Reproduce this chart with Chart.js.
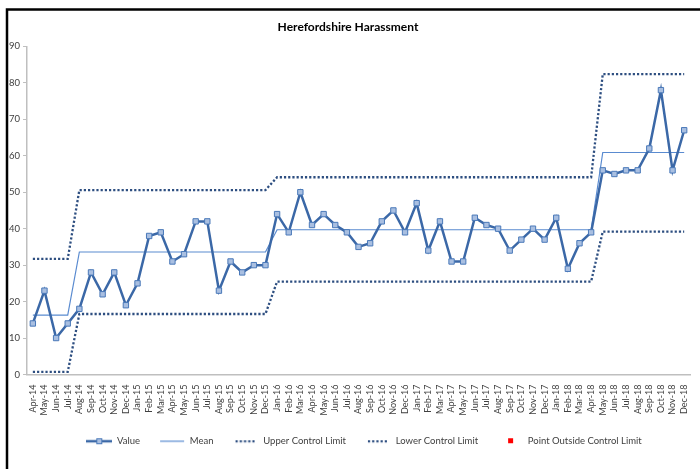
<!DOCTYPE html>
<html>
<head>
<meta charset="utf-8">
<script src="https://cdn.jsdelivr.net/npm/chart.js@4.4.1/dist/chart.umd.min.js"></script>
<style>
  html, body { margin: 0; padding: 0; background: #fff; }
  #wrap { width: 700px; height: 469px; position: relative; }
</style>
</head>
<body>
<div id="wrap"><canvas id="spcChart" width="700" height="469"></canvas></div>
<script>
var months = ["Apr-14","May-14","Jun-14","Jul-14","Aug-14","Sep-14","Oct-14","Nov-14","Dec-14",
    "Jan-15","Feb-15","Mar-15","Apr-15","May-15","Jun-15","Jul-15","Aug-15","Sep-15","Oct-15","Nov-15","Dec-15",
    "Jan-16","Feb-16","Mar-16","Apr-16","May-16","Jun-16","Jul-16","Aug-16","Sep-16","Oct-16","Nov-16","Dec-16",
    "Jan-17","Feb-17","Mar-17","Apr-17","May-17","Jun-17","Jul-17","Aug-17","Sep-17","Oct-17","Nov-17","Dec-17",
    "Jan-18","Feb-18","Mar-18","Apr-18","May-18","Jun-18","Jul-18","Aug-18","Sep-18","Oct-18","Nov-18","Dec-18"];

var values = [14,23,10,14,18,28,22,28,19,
    25,38,39,31,33,42,42,23,31,28,30,30,
    44,39,50,41,44,41,39,35,36,42,45,39,
    47,34,42,31,31,43,41,40,34,37,40,37,
    43,29,36,39,56,55,56,56,62,78,56,67];

var mean = [16.3,16.3,16.3,16.3,33.6,33.6,33.6,33.6,33.6,
    33.6,33.6,33.6,33.6,33.6,33.6,33.6,33.6,33.6,33.6,33.6,33.6,
    39.7,39.7,39.7,39.7,39.7,39.7,39.7,39.7,39.7,39.7,39.7,39.7,
    39.7,39.7,39.7,39.7,39.7,39.7,39.7,39.7,39.7,39.7,39.7,39.7,
    39.7,39.7,39.7,39.7,60.9,60.9,60.9,60.9,60.9,60.9,60.9,60.9];

var upperLimit = [31.7,31.7,31.7,31.7,50.6,50.6,50.6,50.6,50.6,
    50.6,50.6,50.6,50.6,50.6,50.6,50.6,50.6,50.6,50.6,50.6,50.6,
    54.1,54.1,54.1,54.1,54.1,54.1,54.1,54.1,54.1,54.1,54.1,54.1,
    54.1,54.1,54.1,54.1,54.1,54.1,54.1,54.1,54.1,54.1,54.1,54.1,
    54.1,54.1,54.1,54.1,82.4,82.4,82.4,82.4,82.4,82.4,82.4,82.4];

var lowerLimit = [0.7,0.7,0.7,0.7,16.6,16.6,16.6,16.6,16.6,
    16.6,16.6,16.6,16.6,16.6,16.6,16.6,16.6,16.6,16.6,16.6,16.6,
    25.5,25.5,25.5,25.5,25.5,25.5,25.5,25.5,25.5,25.5,25.5,25.5,
    25.5,25.5,25.5,25.5,25.5,25.5,25.5,25.5,25.5,25.5,25.5,25.5,
    25.5,25.5,25.5,25.5,39.2,39.2,39.2,39.2,39.2,39.2,39.2,39.2];

// no point falls outside the limits
var outside = months.map(function() { return null; });

var yTicks = [0,10,20,30,40,50,60,70,80,90];

var valueColor = '#3b68a7';
var markerFill = '#a9bfe1';
var markerEdge = '#4a79b9';
var meanColor = '#5a8bd0';
var limitColor = '#2d4e80';

// small canvases used as legend icons
function icon(draw) {
    var c = document.createElement('canvas');
    c.width = 26; c.height = 10;
    var g = c.getContext('2d');
    draw(g);
    return c;
}
var icons = [
    icon(function(g) {
        g.strokeStyle = valueColor; g.lineWidth = 2.5;
        g.beginPath(); g.moveTo(0, 5); g.lineTo(26, 5); g.stroke();
        g.fillStyle = markerFill; g.fillRect(10, 2, 6, 6);
        g.strokeStyle = markerEdge; g.lineWidth = 1; g.strokeRect(10.5, 2.5, 5, 5);
    }),
    icon(function(g) {
        g.strokeStyle = meanColor; g.lineWidth = 1.2;
        g.beginPath(); g.moveTo(1, 5); g.lineTo(25, 5); g.stroke();
    }),
    icon(function(g) {
        g.fillStyle = limitColor;
        for (var x = 3; x < 24; x += 4.2) g.fillRect(x, 4, 2.2, 2.2);
    }),
    icon(function(g) {
        g.fillStyle = limitColor;
        for (var x = 3; x < 24; x += 4.2) g.fillRect(x, 4, 2.2, 2.2);
    }),
    icon(function(g) {
        g.fillStyle = '#ff0000';
        g.fillRect(11, 2, 5, 5);
    })
];

var frame = {
    id: 'frame',
    afterLayout: function(chart) {
        // legend in the original sits a little right of centre
        chart.legend.left += 16;
        chart.legend.right += 16;
    },
    afterDraw: function(chart) {
        var ctx = chart.ctx;
        ctx.save();
        ctx.strokeStyle = '#000';
        ctx.lineWidth = 2.5;
        ctx.beginPath();
        ctx.moveTo(7, 469); ctx.lineTo(7, 9.5); ctx.lineTo(700, 9.5);
        ctx.stroke();
        ctx.restore();
    }
};

Chart.defaults.font.family = 'Lato, "Open Sans", sans-serif';

var ctx = document.getElementById('spcChart');
var myChart = new Chart(ctx, {
    type: 'line',
    data: {
        labels: months,
        datasets: [{
            label: 'Value',
            data: values,
            borderColor: valueColor,
            borderWidth: 2.5,
            pointStyle: 'rect',
            pointRadius: 3.8,
            pointBackgroundColor: markerFill,
            pointBorderColor: markerEdge,
            pointBorderWidth: 1,
            tension: 0
        }, {
            label: 'Mean',
            data: mean,
            borderColor: meanColor,
            borderWidth: 1.2,
            pointRadius: 0
        }, {
            label: 'Upper Control Limit',
            data: upperLimit,
            borderColor: limitColor,
            borderWidth: 2.3,
            borderDash: [2.2, 2],
            pointRadius: 0
        }, {
            label: 'Lower Control Limit',
            data: lowerLimit,
            borderColor: limitColor,
            borderWidth: 2.3,
            borderDash: [2.2, 2],
            pointRadius: 0
        }, {
            label: 'Point Outside Control Limit',
            data: outside,
            showLine: false,
            pointStyle: 'rect',
            pointRadius: 3.5,
            pointBackgroundColor: '#ff0000',
            pointBorderColor: '#ff0000'
        }]
    },
    options: {
        responsive: false,
        animation: false,
        layout: { padding: { left: 6, right: 10, top: 20, bottom: 13 } },
        plugins: {
            tooltip: { enabled: false },
            title: {
                display: true,
                text: 'Herefordshire Harassment',
                color: '#000',
                font: { size: 12, weight: 'bold' },
                padding: { top: 0, bottom: 12 }
            },
            legend: {
                position: 'bottom',
                labels: {
                    usePointStyle: true,
                    pointStyleWidth: 26,
                    color: '#404040',
                    font: { size: 9.5 },
                    padding: 19,
                    generateLabels: function(chart) {
                        var items = Chart.defaults.plugins.legend.labels.generateLabels(chart);
                        items.forEach(function(it, i) { it.pointStyle = icons[i]; });
                        return items;
                    }
                }
            }
        },
        scales: {
            x: {
                offset: true,
                grid: { display: false },
                border: { color: '#bfbfbf', width: 1.5 },
                ticks: {
                    autoSkip: false,
                    minRotation: 90,
                    maxRotation: 90,
                    padding: 2,
                    color: '#404040',
                    font: { size: 9 }
                }
            },
            y: {
                min: 0,
                max: 90,
                afterBuildTicks: function(axis) {
                    axis.ticks = yTicks.map(function(v) { return { value: v }; });
                },
                grid: { drawOnChartArea: false, color: '#bfbfbf', tickLength: 4 },
                border: { color: '#bfbfbf', width: 1.5 },
                ticks: {
                    padding: 3,
                    color: '#404040',
                    font: { size: 9.5 }
                }
            }
        }
    },
    plugins: [frame]
});
</script>
</body>
</html>
